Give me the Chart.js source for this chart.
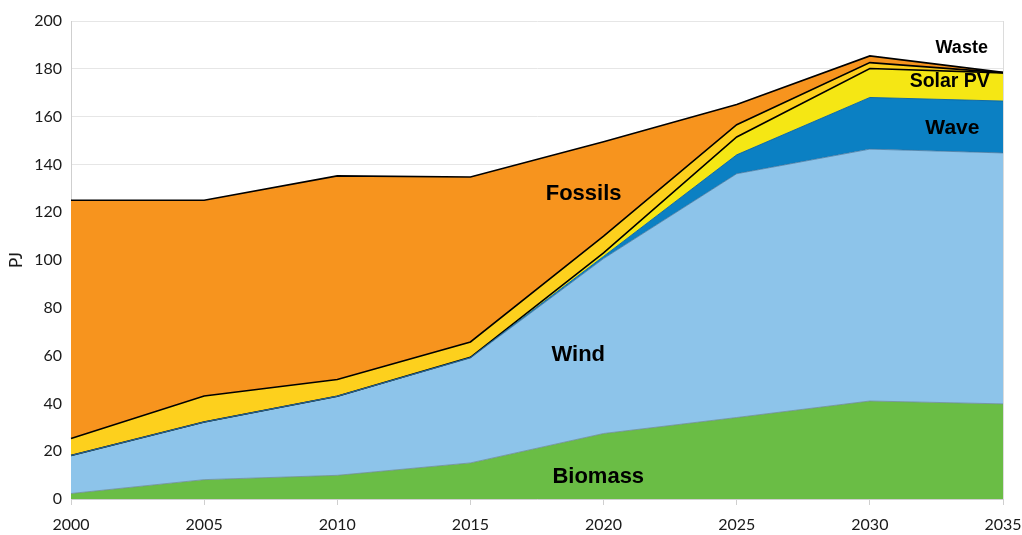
<!DOCTYPE html>
<html>
<head>
<meta charset="utf-8">
<script src="https://cdn.jsdelivr.net/npm/chart.js@4.4.1/dist/chart.umd.min.js"></script>
<style>
  html, body { margin: 0; padding: 0; background: #fff; }
  #wrap { width: 1022px; height: 535px; position: relative; }
</style>
</head>
<body>
<div id="wrap"><canvas id="c"></canvas></div>
<script>
// years on the x axis
const years = ['2000', '2005', '2010', '2015', '2020', '2025', '2030', '2035'];

// PJ per source (stacked in this order)
const biomass = [2.3, 8.1, 9.9, 15.1, 27.4, 34.1, 41.0, 39.8];
const wind    = [15.9, 24.1, 33.1, 43.9, 73.2, 102.0, 105.4, 105.0];
const wave    = [0, 0, 0, 0.2, 0.9, 7.9, 21.6, 21.7];
const solarPV = [0, 0, 0, 0.1, 1.5, 7.5, 12.1, 11.8];
const waste   = [7.1, 10.9, 7.0, 6.4, 7.0, 5.1, 2.5, 0.1];
const fossils = [99.7, 81.9, 85.2, 69.0, 39.5, 8.5, 2.8, 0.1];

const yTicks = [0, 20, 40, 60, 80, 100, 120, 140, 160, 180, 200];

// in-plot series names, placed in data coordinates (x = year index, y = PJ)
const areaLabels = [
  { text: 'Fossils',  x: 3.85, y: 127.5, size: 22 },
  { text: 'Wind',     x: 3.81, y: 60.2,  size: 22 },
  { text: 'Biomass',  x: 3.96, y: 9.3,   size: 22 },
  { text: 'Wave',     x: 6.62, y: 155,   size: 21 },
  { text: 'Solar PV', x: 6.60, y: 174.8, size: 19.5 },
  { text: 'Waste',    x: 6.69, y: 188.6, size: 18 },
];

const areaLabelPlugin = {
  id: 'areaLabels',
  beforeDatasetsDraw(chart) {
    const { ctx, chartArea } = chart;
    ctx.save();
    ctx.strokeStyle = '#dcdcdc';
    ctx.lineWidth = 1;
    ctx.beginPath();
    ctx.moveTo(chartArea.right + 0.5, chartArea.top);
    ctx.lineTo(chartArea.right + 0.5, chartArea.bottom);
    ctx.stroke();
    ctx.restore();
  },
  afterDatasetsDraw(chart) {
    const { ctx, scales } = chart;
    ctx.save();
    ctx.fillStyle = '#000';
    ctx.textAlign = 'center';
    ctx.textBaseline = 'middle';
    areaLabels.forEach(l => {
      ctx.font = `bold ${l.size}px "Liberation Sans", Arial, sans-serif`;
      ctx.fillText(l.text, scales.x.getPixelForValue(l.x), scales.y.getPixelForValue(l.y));
    });
    ctx.restore();
  },
};

const area = (label, data, bg, border, bw, fill) => ({
  label, data, fill,
  backgroundColor: bg, borderColor: border, borderWidth: bw,
  pointRadius: 0, tension: 0,
});

new Chart(document.getElementById('c'), {
  type: 'line',
  data: {
    labels: years,
    datasets: [
      area('Biomass',  biomass, '#6abd45', 'rgba(110,140,160,.8)', 1, 'origin'),
      area('Wind',     wind,    '#8dc4ea', 'rgba(60,110,150,.7)', 1, '-1'),
      area('Wave',     wave,    '#0b80c3', 'rgba(10,100,160,.9)', 1, '-1'),
      area('Solar PV', solarPV, '#f5e714', '#000', 1.6, '-1'),
      area('Waste',    waste,   '#fdd01d', '#000', 1.6, '-1'),
      area('Fossils',  fossils, '#f7941e', '#000', 1.6, '-1'),
    ],
  },
  options: {
    responsive: true,
    maintainAspectRatio: false,
    animation: false,
    layout: { padding: { left: 6, right: 19, top: 21, bottom: 0 } },
    plugins: {
      legend: { display: false },
      tooltip: { enabled: false },
      filler: { drawTime: 'beforeDatasetsDraw' },
    },
    scales: {
      x: {
        offset: false,
        grid: { drawOnChartArea: false, drawTicks: true, tickLength: 6, color: '#cfcfcf' },
        border: { color: '#cfcfcf' },
        ticks: { color: '#1a1a1a', font: { family: 'Lato', size: 16 }, padding: 10, maxRotation: 0 },
        afterFit: s => { s.height = 36; s.paddingLeft = 0; s.paddingRight = 0; },
      },
      y: {
        stacked: true,
        min: 0, max: 200,
        afterBuildTicks: s => { s.ticks = yTicks.map(v => ({ value: v })); },
        grid: { color: '#e6e6e6', drawTicks: false },
        border: { color: '#cfcfcf' },
        ticks: { color: '#1a1a1a', font: { family: 'Lato', size: 16 }, padding: 9 },
        title: { display: true, text: 'PJ', color: '#1a1a1a', font: { family: 'Lato', size: 17 }, padding: 0 },
        afterFit: s => { s.width = 65; },
      },
    },
  },
  plugins: [areaLabelPlugin],
});
</script>
</body>
</html>
